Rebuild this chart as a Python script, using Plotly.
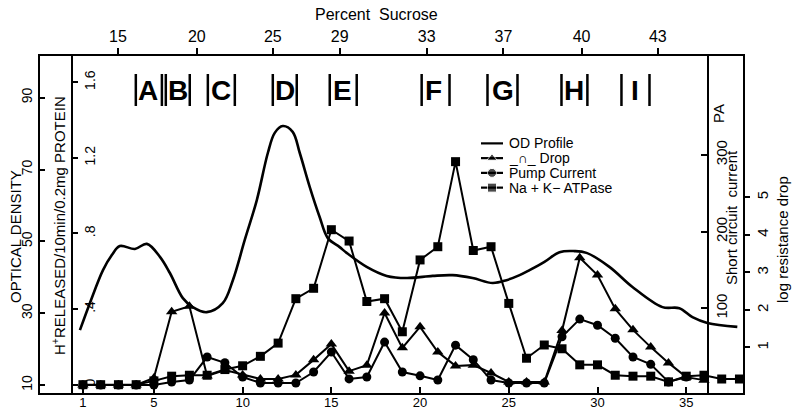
import plotly.graph_objects as go

# ---------------- data ----------------
fractions = list(range(1, 39))

# Na + K - ATPase (H+ released / 10 min / 0.2 mg protein), fractions 1..38
atpase = [0.00, 0.00, 0.00, 0.00, 0.02, 0.045, 0.05, 0.05, 0.08, 0.10,
          0.15, 0.22, 0.455, 0.51, 0.82, 0.76, 0.44, 0.455, 0.28, 0.66,
          0.73, 1.18, 0.71, 0.73, 0.43, 0.14, 0.21, 0.19, 0.105, 0.105,
          0.05, 0.045, 0.045, 0.015, 0.045, 0.05, 0.03, 0.03]

# resistance drop (log), fractions 1..36
drop_x = list(range(1, 37))
drop = [0.0, 0.0, 0.0, 0.0, 0.19, 1.95, 2.10, 0.24, 0.40, 0.27,
        0.16, 0.16, 0.27, 0.67, 1.09, 0.37, 0.53, 1.92, 0.99, 1.55,
        0.88, 0.51, 0.53, 0.32, 0.08, 0.08, 0.08, 1.45, 3.39, 2.93,
        2.03, 1.47, 1.01, 0.59, 0.21, 0.13]

# pump current (short circuit current, PA), fractions 1..35
pump_x = list(range(1, 36))
pump = [0, 0, 0, 0, 0, 4, 6.5, 36.5, 29, 10.4,
        2.6, 2.6, 2.6, 17, 43, 8, 10.4, 56, 17, 12,
        6.5, 52, 33, 6.5, 2.6, 2.6, 2.6, 63, 86, 78,
        61, 36.5, 27, 4, 10.4]

# OD profile (continuous)
od_x = [0.83, 1.39, 2.13, 2.63, 3.08, 3.93, 4.60, 5.34, 5.90, 6.63,
        7.19, 7.98, 8.88, 9.45, 10.12, 10.80, 11.42, 11.81, 12.26, 12.82,
        13.22, 13.78, 14.34, 14.80, 15.47, 15.86, 16.99, 18.12, 19.24, 20.71,
        21.83, 22.96, 24.09, 24.87, 25.61, 26.17, 27.01, 27.86, 28.70, 29.38,
        30.67, 31.97, 33.66, 34.61, 35.35, 36.19, 37.88]
od = [25.3, 32.8, 42.0, 46.2, 48.7, 47.9, 49.3, 45.7, 41.2, 34.2,
      31.7, 30.3, 32.8, 39.2, 50.4, 61.5, 74.6, 80.2, 82.1, 80.5,
      74.6, 65.2, 56.8, 50.9, 48.4, 46.8, 42.9, 40.4, 39.8, 40.4,
      40.6, 39.8, 38.4, 39.2, 40.6, 42.0, 44.3, 47.0, 47.3, 46.8,
      42.9, 37.3, 31.7, 31.4, 28.9, 27.3, 26.2]

bottom_ticks = [1, 5, 10, 15, 20, 25, 30, 35]
sucrose_pos = [2.97, 7.42, 11.7, 15.47, 20.37, 24.7, 29.1, 33.4]
sucrose_labels = ["15", "20", "25", "29", "33", "37", "40", "43"]

od_ticks = [10, 30, 50, 70, 90]
h_ticks = [0, 0.4, 0.8, 1.2, 1.6]
h_labels = ["0", ".4", ".8", "1.2", "1.6"]
pa_ticks = [100, 200, 300]
log_ticks = [1, 2, 3, 4, 5]

band_letters = ["A", "B", "C", "D", "E", "F", "G", "H", "I"]
band_center = [4.66, 6.35, 8.77, 12.37, 15.64, 20.76, 24.65, 28.70, 32.14]
band_left = [3.98, 5.67, 8.04, 11.70, 14.91, 20.09, 23.80, 27.97, 31.35]
band_right = [5.45, 7.02, 9.56, 13.05, 16.43, 21.66, 25.49, 29.43, 32.93]

legend_names = ["OD Profile", "_\u2229_ Drop", "Pump Current", "Na + K\u2212 ATPase"]
legend_symbols = [None, "triangle-up", "circle", "square"]

# ---------------- layout helpers ----------------
W, H = 792, 410
L, R, T, B = 40, 743, 56, 393


def px(x):
    return (x - L) / (R - L)


def py(y):
    return (B - y) / (B - T)


FONT = "Liberation Sans, Arial, sans-serif"
BLACK = "black"

fig = go.Figure()

fig.add_trace(go.Scatter(
    x=od_x, y=od, mode="lines", name=legend_names[0],
    line=dict(color=BLACK, width=2.6, shape="spline", smoothing=1.0),
    xaxis="x", yaxis="y"))

fig.add_trace(go.Scatter(
    x=drop_x, y=drop, mode="lines+markers", name=legend_names[1],
    line=dict(color=BLACK, width=2),
    marker=dict(symbol="triangle-up", size=10, color=BLACK),
    xaxis="x", yaxis="y4"))

fig.add_trace(go.Scatter(
    x=pump_x, y=pump, mode="lines+markers", name=legend_names[2],
    line=dict(color=BLACK, width=2),
    marker=dict(symbol="circle", size=9, color=BLACK),
    xaxis="x", yaxis="y3"))

fig.add_trace(go.Scatter(
    x=fractions, y=atpase, mode="lines+markers", name=legend_names[3],
    line=dict(color=BLACK, width=2),
    marker=dict(symbol="square", size=9, color=BLACK),
    xaxis="x", yaxis="y2"))

# axis-helper trace so the top sucrose axis is drawn
xr = [-1.42, 38.2]
fig.add_trace(go.Scatter(x=[xr[0]], y=[None], xaxis="x2", yaxis="y",
                         showlegend=False, hoverinfo="skip"))

# legend keys (drawn on their own small helper axes)
for i, sym in enumerate(legend_symbols):
    if sym is None:
        fig.add_trace(go.Scatter(x=[0, 1], y=[i, i], mode="lines",
                                 line=dict(color=BLACK, width=2.2),
                                 xaxis="x3", yaxis="y5", showlegend=False,
                                 hoverinfo="skip"))
    else:
        fig.add_trace(go.Scatter(x=[0, 0.5, 1], y=[i, i, i], mode="lines+markers",
                                 line=dict(color=BLACK, width=2.2),
                                 marker=dict(symbol=sym, size=[0, 9, 0], color=BLACK),
                                 xaxis="x3", yaxis="y5", showlegend=False,
                                 hoverinfo="skip"))

common = dict(automargin=False, showgrid=False, zeroline=False)

fig.update_layout(
    template="none",
    width=W, height=H,
    margin=dict(l=L, r=W - R, t=T, b=H - B, pad=0),
    paper_bgcolor="white", plot_bgcolor="white",
    font=dict(family=FONT, color=BLACK, size=14),
    showlegend=False,
    xaxis=dict(range=xr, tickvals=bottom_ticks, ticks="inside", ticklen=6,
               tickwidth=2, tickcolor=BLACK, showline=True, linecolor=BLACK,
               linewidth=2, mirror=True, tickfont=dict(size=13),
               ticklabelstandoff=-4, **common),
    xaxis2=dict(range=xr, overlaying="x", side="top", anchor="y",
                tickvals=sucrose_pos, ticktext=sucrose_labels, ticks="outside",
                ticklen=7, tickwidth=2, tickcolor=BLACK, showline=False,
                tickfont=dict(size=16), **common),
    xaxis3=dict(domain=[px(481), px(503)], range=[0, 1], anchor="y5",
                visible=False, **common),
    yaxis=dict(range=[7.8, 101.6], tickvals=od_ticks, ticks="inside",
               ticklen=5, tickwidth=2, tickcolor=BLACK, tickangle=-90,
               showline=True, linecolor=BLACK, linewidth=2, mirror=True,
               tickfont=dict(size=14), **common),
    yaxis2=dict(range=[-0.044, 1.739], domain=[0, 0.9525], overlaying="y",
                anchor="free", position=px(72), side="right",
                tickvals=h_ticks, ticktext=h_labels, ticks="outside",
                ticklen=5, tickwidth=2, tickcolor=BLACK, tickangle=-90,
                showline=True, linecolor=BLACK, linewidth=2,
                tickfont=dict(size=14), **common),
    yaxis3=dict(range=[-10.4, 429], overlaying="y", anchor="free",
                position=px(708), side="right", tickvals=pa_ticks,
                ticks="inside", ticklen=6, tickwidth=2, tickcolor=BLACK,
                tickangle=-90, showline=True, linecolor=BLACK, linewidth=2,
                tickfont=dict(size=15), **common),
    yaxis4=dict(range=[-0.213, 8.77], overlaying="y", anchor="x",
                side="right", tickvals=log_ticks, ticks="outside", ticklen=6,
                tickwidth=2, tickcolor=BLACK, tickangle=-90, showline=False,
                tickfont=dict(size=15), **common),
    yaxis5=dict(domain=[py(195), py(136)], range=[3.5, -0.5], anchor="x3",
                visible=False, **common),
)

ann = []
shapes = []


def text(xp_, yp_, s, size=15, angle=0, anchor="center"):
    ann.append(dict(x=px(xp_), y=py(yp_), xref="paper", yref="paper",
                    text=s, showarrow=False, textangle=angle,
                    xanchor=anchor, yanchor="middle",
                    font=dict(family=FONT, size=size, color=BLACK)))


text(15, 237, "OPTICAL DENSITY", 15, -90)
text(58, 226, "H<sup>+</sup>RELEASED/10min/0.2mg PROTEIN", 15, -90)
text(732, 218, "Short circuit  current", 15, -90)
text(719, 114, "PA", 15, -90)
text(782, 240, "log resistance drop", 15, -90)
text(376, 15, "Percent  Sucrose", 16)

# legend labels
for i, name in enumerate(legend_names):
    ann.append(dict(x=px(507), y=i, xref="paper", yref="y5", text=name,
                    showarrow=False, xanchor="left", yanchor="middle",
                    font=dict(family=FONT, size=14, color=BLACK)))

# fraction band labels |A| |B| ...
for lab, c, lo, hi in zip(band_letters, band_center, band_left, band_right):
    ann.append(dict(x=c, y=py(90), xref="x", yref="paper", text="<b>%s</b>" % lab,
                    showarrow=False, xanchor="center", yanchor="middle",
                    font=dict(family=FONT, size=28, color=BLACK)))
    for edge in (lo, hi):
        shapes.append(dict(type="line", xref="x", yref="paper", x0=edge, x1=edge,
                           y0=py(106), y1=py(74),
                           line=dict(color=BLACK, width=2.5)))

fig.update_layout(annotations=ann, shapes=shapes)

fig.write_html("out.html",
               config={"displayModeBar": False},
               post_script="document.body.style.margin='0';"
                           "document.body.style.overflow='hidden';")
